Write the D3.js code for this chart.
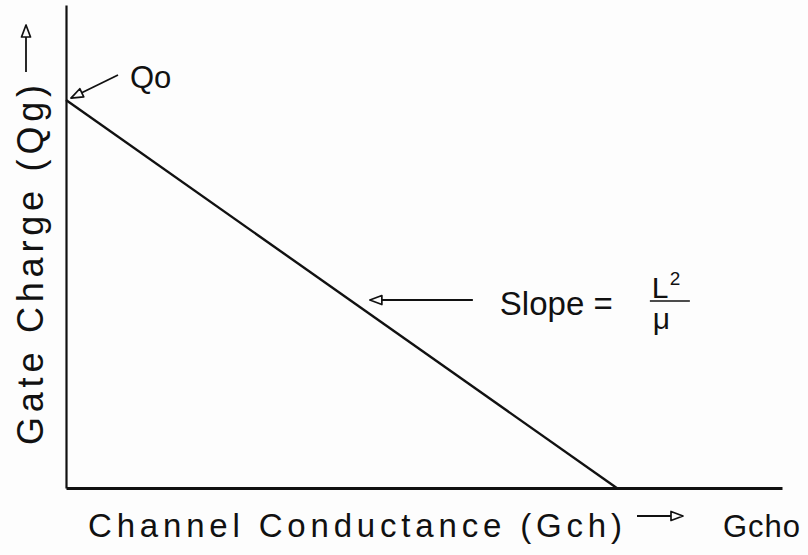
<!DOCTYPE html>
<html>
<head>
<meta charset="utf-8">
<script src="https://cdn.jsdelivr.net/npm/d3@7/dist/d3.min.js"></script>
<style>
  html, body { margin: 0; padding: 0; background: #fdfdfd; }
  svg { display: block; }
  text { font-family: "Liberation Sans", Arial, sans-serif; fill: #111; }
</style>
</head>
<body>
<svg id="chart" width="808" height="555"></svg>
<script>
// Gate charge falls linearly with channel conductance (normalised units).
const conductance = [0, 1];      // G_ch, from 0 up to G_cho
const gateCharge  = [1, 0];      // Q_g, from Q_0 down to 0
const xExtent = [0, 1.3];        // axis runs a little past G_cho
const yExtent = [0, 1.245];      // axis runs a little past Q_0

const xTitle = "Channel Conductance (Gch)";
const xEndLabel = "Gcho";
const yTitle = "Gate Charge (Qg)";
const q0Label = "Qo";
const slopeText = "Slope =";
const slopeNum = "L";
const slopeExp = "2";
const slopeDen = "\u03BC";

const svg = d3.select("#chart");
const x = d3.scaleLinear().domain(xExtent).range([66, 782]);
const y = d3.scaleLinear().domain(yExtent).range([488, 5]);

// spread the letters of a label so it spans a given length
function spread(sel, length) {
  const n = sel.text().length;
  const natural = sel.node().getComputedTextLength();
  sel.attr("letter-spacing", Math.max(0, (length - natural) / (n - 1)));
  return sel;
}

// open triangular arrowhead, tip at the end of the line
svg.append("defs").append("marker")
  .attr("id", "head")
  .attr("viewBox", "0 0 16 12")
  .attr("refX", 14).attr("refY", 6)
  .attr("markerWidth", 16).attr("markerHeight", 12)
  .attr("markerUnits", "userSpaceOnUse")
  .attr("orient", "auto")
  .append("path")
  .attr("d", "M14,6 L2,1.5 L2,10.5 Z")
  .attr("fill", "#fdfdfd").attr("stroke", "#111").attr("stroke-width", 1.7)
  .attr("stroke-linejoin", "round");

// axes without ticks
const gx = svg.append("g").attr("transform", `translate(0,${y(0)})`)
  .call(d3.axisBottom(x).tickValues([]).tickSizeOuter(0));
gx.select(".domain").attr("stroke", "#111").attr("stroke-width", 3);

const gy = svg.append("g").attr("transform", `translate(${x(0)},0)`)
  .call(d3.axisLeft(y).tickValues([]).tickSizeOuter(0));
gy.select(".domain").attr("stroke", "#111").attr("stroke-width", 2.2);

// the Qg–Gch line
const pts = conductance.map((c, i) => [c, gateCharge[i]]);
svg.append("path")
  .datum(pts)
  .attr("d", d3.line().x(d => x(d[0])).y(d => y(d[1])))
  .attr("fill", "none").attr("stroke", "#111").attr("stroke-width", 2.4);

// Q0 callout pointing at the intercept
const q0x = x(conductance[0]), q0y = y(gateCharge[0]);
svg.append("line")
  .attr("x1", q0x + 52).attr("y1", q0y - 25)
  .attr("x2", q0x + 5).attr("y2", q0y - 2)
  .attr("stroke", "#111").attr("stroke-width", 1.8)
  .attr("marker-end", "url(#head)");
svg.append("text")
  .attr("x", q0x + 64).attr("y", q0y - 12)
  .attr("font-size", 31)
  .text(q0Label);

// slope callout pointing at the middle of the line
const ySlope = 300;
const tAt = (y.invert(ySlope) - gateCharge[0]) / (gateCharge[1] - gateCharge[0]);
const xOnLine = x(conductance[0] + tAt * (conductance[1] - conductance[0]));
svg.append("line")
  .attr("x1", xOnLine + 123).attr("y1", ySlope)
  .attr("x2", xOnLine + 20).attr("y2", ySlope)
  .attr("stroke", "#111").attr("stroke-width", 1.8)
  .attr("marker-end", "url(#head)");
spread(svg.append("text")
  .attr("x", xOnLine + 150).attr("y", ySlope + 15)
  .attr("font-size", 33)
  .text(slopeText), 106);
svg.append("text")
  .attr("x", xOnLine + 302).attr("y", ySlope - 2)
  .attr("font-size", 30)
  .text(slopeNum);
svg.append("text")
  .attr("x", xOnLine + 320).attr("y", ySlope - 15)
  .attr("font-size", 19)
  .text(slopeExp);
svg.append("line")
  .attr("x1", xOnLine + 300).attr("x2", xOnLine + 340)
  .attr("y1", ySlope + 1).attr("y2", ySlope + 1)
  .attr("stroke", "#111").attr("stroke-width", 1.6);
svg.append("text")
  .attr("x", xOnLine + 303).attr("y", ySlope + 29)
  .attr("font-size", 30)
  .text(slopeDen);

// x-axis title with arrow and end label
spread(svg.append("text")
  .attr("x", 88).attr("y", 537)
  .attr("font-size", 33)
  .text(xTitle), 534);
svg.append("line")
  .attr("x1", 637).attr("y1", 516)
  .attr("x2", 683).attr("y2", 516)
  .attr("stroke", "#111").attr("stroke-width", 1.8)
  .attr("marker-end", "url(#head)");
spread(svg.append("text")
  .attr("x", 723).attr("y", 537)
  .attr("font-size", 31)
  .text(xEndLabel), 77);

// y-axis title, read bottom to top, with upward arrow
spread(svg.append("text")
  .attr("transform", "translate(43,445) rotate(-90)")
  .attr("font-size", 36)
  .text(yTitle), 360);
svg.append("line")
  .attr("x1", 26).attr("y1", 72)
  .attr("x2", 26).attr("y2", 25)
  .attr("stroke", "#111").attr("stroke-width", 1.8)
  .attr("marker-end", "url(#head)");
</script>
</body>
</html>
